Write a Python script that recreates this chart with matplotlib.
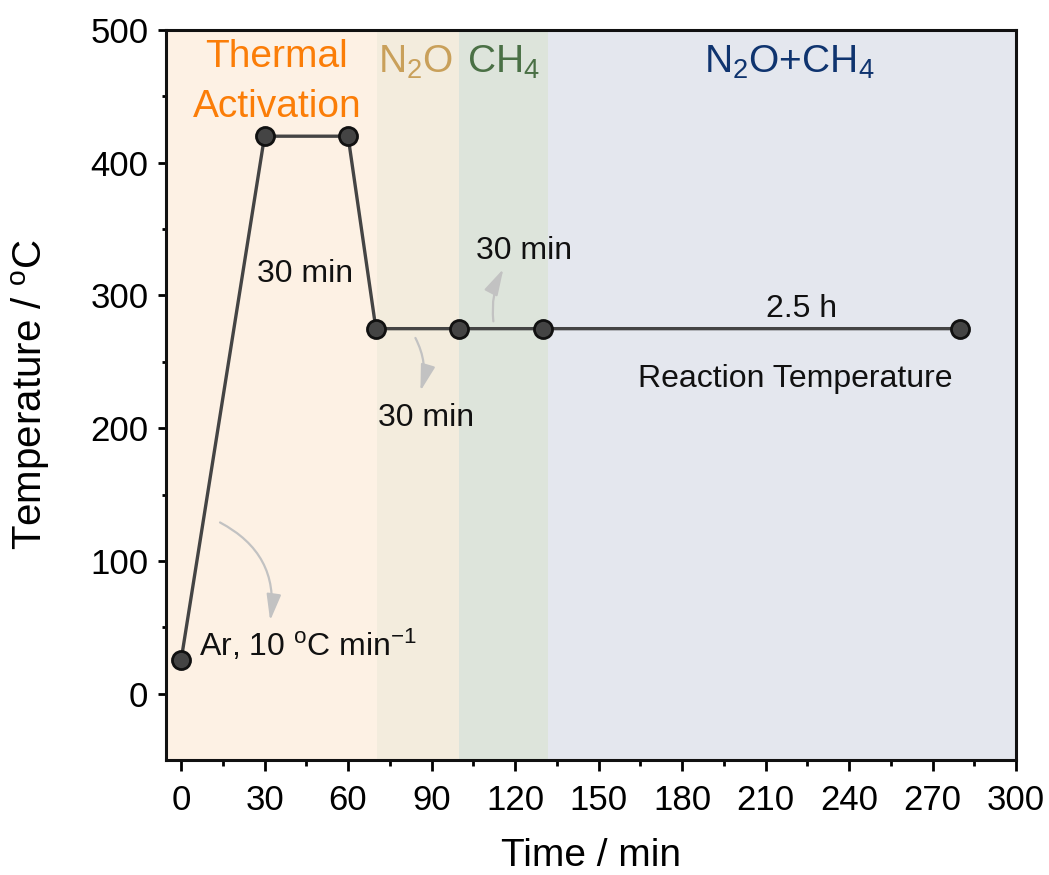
import matplotlib
matplotlib.use("Agg")
import matplotlib.pyplot as plt
from matplotlib.patches import FancyArrowPatch

plt.rcParams["font.family"] = ["Liberation Sans", "DejaVu Sans"]
plt.rcParams["mathtext.fontset"] = "custom"
plt.rcParams["mathtext.rm"] = "Liberation Sans"
plt.rcParams["mathtext.it"] = "Liberation Sans:italic"
plt.rcParams["mathtext.bf"] = "Liberation Sans:bold"

# temperature program
time_min = [0, 30, 60, 70, 100, 130, 280]
temp_c = [25, 420, 420, 275, 275, 275, 275]

# gas stages along the time axis
stage_edges = [-5.5, 70.5, 100, 132, 300]
stage_fill = ["#fdf1e4", "#f3ecdd", "#dde4db", "#e4e7ee"]
stage_names = ["Thermal", r"N$_2$O", r"CH$_4$", r"N$_2$O+CH$_4$"]
stage_text_colors = ["#fb7d07", "#c9a05a", "#4a7045", "#0f346f"]

x_ticks = list(range(0, 301, 30))
y_ticks = list(range(0, 501, 100))

fig = plt.figure(figsize=(10.49, 8.75), dpi=100)
ax = fig.add_axes([0.158, 0.1314, 0.8106, 0.8343])

for i in range(len(stage_fill)):
    ax.axvspan(stage_edges[i], stage_edges[i + 1], color=stage_fill[i], lw=0, zorder=0)

# stage headers
head_kw = dict(ha="center", va="baseline", fontsize=28)
ax.text(34.2, 472.0, stage_names[0], color=stage_text_colors[0], **head_kw)
ax.text(34.4, 434.6, "Activation", color=stage_text_colors[0], **head_kw)
ax.text(84.2, 467.7, stage_names[1], color=stage_text_colors[1], **head_kw)
ax.text(116.0, 467.7, stage_names[2], color=stage_text_colors[2], **head_kw)
ax.text(218.4, 467.7, stage_names[3], color=stage_text_colors[3], **head_kw)

ax.plot(time_min, temp_c, color="#444444", lw=2.4, marker="o", markersize=13,
        markerfacecolor="#444444", markeredgecolor="#111111", markeredgewidth=2.0,
        zorder=3)

# step annotations
note_kw = dict(ha="center", va="baseline", fontsize=23, color="#111111")
ax.text(44.6, 309.8, "30 min", **note_kw)
ax.text(88.2, 201.5, "30 min", **note_kw)
ax.text(123.4, 327.8, "30 min", **note_kw)
ax.text(223.0, 283.5, "2.5 h", **note_kw)
ax.text(220.5, 230.8, "Reaction Temperature", **note_kw)
ax.text(6.5, 28.6, r"Ar, 10 $^{\mathrm{o}}$C min$^{-1}$", ha="left", va="baseline",
        fontsize=23, color="#111111")

arrow_kw = dict(arrowstyle="-|>,head_length=0.8,head_width=0.22", mutation_scale=20,
                color="#c2c2c2", lw=1.6, zorder=2, shrinkA=0, shrinkB=0)
ax.add_patch(FancyArrowPatch((14.0, 129.0), (32.0, 55.0),
                             connectionstyle="arc3,rad=-0.35", **arrow_kw))
ax.add_patch(FancyArrowPatch((84.2, 268.0), (86.0, 228.0),
                             connectionstyle="arc3,rad=-0.2", **arrow_kw))
ax.add_patch(FancyArrowPatch((112.2, 280.5), (115.8, 320.0),
                             connectionstyle="arc3,rad=-0.15", **arrow_kw))

ax.set_xlim(-5.5, 300)
ax.set_ylim(-50, 500)
ax.set_xticks(x_ticks)
ax.set_xticks(list(range(15, 300, 30)), minor=True)
ax.set_yticks(y_ticks)
ax.set_yticks(list(range(50, 500, 100)), minor=True)

for side in ["left", "right", "top", "bottom"]:
    ax.spines[side].set_linewidth(2.2)
    ax.spines[side].set_color("#111111")

ax.tick_params(axis="x", which="major", direction="out", length=8, width=2.0,
               labelsize=25, pad=9)
ax.tick_params(axis="x", which="minor", direction="out", length=4, width=2.0)
ax.tick_params(axis="y", which="major", direction="out", length=5.5, width=2.0,
               labelsize=25, pad=7)
ax.tick_params(axis="y", which="minor", direction="out", length=3, width=2.0)

ax.set_xlabel("Time / min", fontsize=28)
ax.set_ylabel(r"Temperature / $^{\mathrm{o}}$C", fontsize=29)
ax.xaxis.set_label_coords(0.5, -0.107)
ax.yaxis.set_label_coords(-0.134, 0.5)

fig.savefig("out.png", dpi=100)
